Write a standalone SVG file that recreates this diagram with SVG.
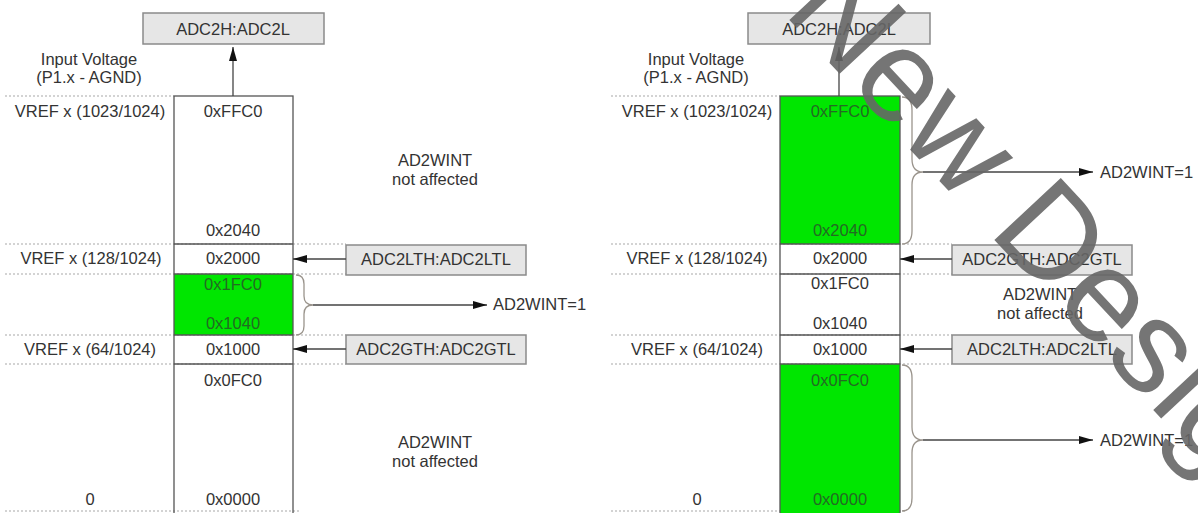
<svg xmlns="http://www.w3.org/2000/svg" width="1198" height="513" viewBox="0 0 1198 513">
<style>
text{font-family:"Liberation Sans",Arial,sans-serif;font-size:16.5px;fill:#333}
.c{text-anchor:middle}
.g{fill:#236b23}
.box{fill:#e6e6e6;stroke:#8a8a8a;stroke-width:1.5}
.col{fill:none;stroke:#555;stroke-width:1.3}
.sep{stroke:#555;stroke-width:1.3}
.dot{stroke:#a8a8a8;stroke-width:1.2;stroke-dasharray:2 2}
.grn{fill:#00e600}
.arw{stroke:#444;stroke-width:1.3;fill:none;marker-end:url(#ah)}
.brace{fill:none;stroke:#9a948c;stroke-width:1.3}
.wm{font-size:132px;fill:#666;fill-opacity:0.9}
</style>
<defs>
<marker id="ah" markerUnits="userSpaceOnUse" markerWidth="14" markerHeight="8" refX="14" refY="4" orient="auto">
<path d="M0,0 L14,4 L0,8 z" fill="#111"/>
</marker>
</defs>

<!-- dotted guide lines -->
<g id="guides">
<line class="dot" x1="5" y1="96" x2="174" y2="96"/>
<line class="dot" x1="5" y1="244" x2="346" y2="244"/>
<line class="dot" x1="5" y1="274" x2="346" y2="274"/>
<line class="dot" x1="5" y1="335" x2="346" y2="335"/>
<line class="dot" x1="5" y1="364" x2="346" y2="364"/>
<line class="dot" x1="5" y1="511" x2="300" y2="511"/>
<line class="dot" x1="611" y1="96" x2="780" y2="96"/>
<line class="dot" x1="611" y1="244" x2="952" y2="244"/>
<line class="dot" x1="611" y1="274" x2="952" y2="274"/>
<line class="dot" x1="611" y1="335" x2="952" y2="335"/>
<line class="dot" x1="611" y1="364" x2="952" y2="364"/>
<line class="dot" x1="611" y1="511" x2="906" y2="511"/>
</g>

<!-- LEFT PANEL -->
<g id="left-column">
<rect class="grn" x="174" y="274" width="119" height="61"/>
<rect class="col" x="174" y="96" width="119" height="420"/>
<line class="sep" x1="174" y1="244" x2="293" y2="244"/>
<line class="sep" x1="174" y1="274" x2="293" y2="274"/>
<line class="sep" x1="174" y1="335" x2="293" y2="335"/>
<line class="sep" x1="174" y1="364" x2="293" y2="364"/>
<text class="c" x="233" y="117">0xFFC0</text>
<text class="c" x="233" y="236">0x2040</text>
<text class="c" x="233" y="264">0x2000</text>
<text class="c g" x="233" y="290">0x1FC0</text>
<text class="c g" x="233" y="329">0x1040</text>
<text class="c" x="233" y="355">0x1000</text>
<text class="c" x="233" y="386">0x0FC0</text>
<text class="c" x="233" y="505">0x0000</text>
</g>
<g id="left-labels">
<text class="c" x="89" y="65">Input Voltage</text>
<text class="c" x="89" y="83">(P1.x - AGND)</text>
<text class="c" x="90" y="117">VREF x (1023/1024)</text>
<text class="c" x="91" y="264">VREF x (128/1024)</text>
<text class="c" x="90" y="355">VREF x (64/1024)</text>
<text class="c" x="90" y="505">0</text>
<text class="c" x="435" y="166">AD2WINT</text>
<text class="c" x="435" y="185">not affected</text>
<text class="c" x="435" y="448">AD2WINT</text>
<text class="c" x="435" y="467">not affected</text>
<text x="493" y="310">AD2WINT=1</text>
</g>
<g id="left-adc2h">
<rect class="box" x="143" y="13" width="181" height="31"/>
<text class="c" x="233" y="35">ADC2H:ADC2L</text>
</g>
<g id="left-adc2lt">
<rect class="box" x="346" y="245" width="180" height="30"/>
<text class="c" x="436" y="265">ADC2LTH:ADC2LTL</text>
</g>
<g id="left-adc2gt">
<rect class="box" x="346" y="335" width="180" height="29"/>
<text class="c" x="436" y="355">ADC2GTH:ADC2GTL</text>
</g>

<!-- RIGHT PANEL -->
<g id="right-column">
<rect class="grn" x="780" y="96" width="120" height="148"/>
<rect class="grn" x="780" y="364" width="120" height="152"/>
<rect class="col" x="780" y="96" width="120" height="420"/>
<line class="sep" x1="780" y1="244" x2="900" y2="244"/>
<line class="sep" x1="780" y1="274" x2="900" y2="274"/>
<line class="sep" x1="780" y1="335" x2="900" y2="335"/>
<line class="sep" x1="780" y1="364" x2="900" y2="364"/>
<text class="c g" x="840" y="117">0xFFC0</text>
<text class="c g" x="840" y="236">0x2040</text>
<text class="c" x="840" y="264">0x2000</text>
<text class="c" x="840" y="289">0x1FC0</text>
<text class="c" x="840" y="329">0x1040</text>
<text class="c" x="840" y="355">0x1000</text>
<text class="c g" x="840" y="386">0x0FC0</text>
<text class="c g" x="840" y="505">0x0000</text>
</g>
<g id="right-labels">
<text class="c" x="696" y="65">Input Voltage</text>
<text class="c" x="696" y="83">(P1.x - AGND)</text>
<text class="c" x="697" y="117">VREF x (1023/1024)</text>
<text class="c" x="697" y="264">VREF x (128/1024)</text>
<text class="c" x="697" y="355">VREF x (64/1024)</text>
<text class="c" x="697" y="505">0</text>
<text class="c" x="1040" y="300">AD2WINT</text>
<text class="c" x="1040" y="319">not affected</text>
<text x="1100" y="178">AD2WINT=1</text>
<text x="1100" y="446">AD2WINT=1</text>
</g>
<g id="right-adc2h">
<rect class="box" x="748" y="13" width="182" height="31"/>
<text class="c" x="839" y="35">ADC2H:ADC2L</text>
</g>
<g id="right-adc2gt">
<rect class="box" x="952" y="245" width="180" height="30"/>
<text class="c" x="1042" y="265">ADC2GTH:ADC2GTL</text>
</g>
<g id="right-adc2lt">
<rect class="box" x="952" y="335" width="180" height="29"/>
<text class="c" x="1042" y="355">ADC2LTH:ADC2LTL</text>
</g>

<!-- connectors -->
<g id="connectors">
<line class="arw" x1="233" y1="96" x2="233" y2="47"/>
<line class="arw" x1="346" y1="259" x2="293" y2="259"/>
<line class="arw" x1="346" y1="349" x2="293" y2="349"/>
<path class="brace" d="M296,275 Q304,275 304,284 L304,296 Q304,305 313,305 Q304,305 304,314 L304,326 Q304,335 296,335"/>
<line class="arw" x1="313" y1="305" x2="487" y2="305"/>
<line class="arw" x1="839" y1="96" x2="839" y2="47"/>
<line class="arw" x1="952" y1="259" x2="900" y2="259"/>
<line class="arw" x1="952" y1="349" x2="900" y2="349"/>
<path class="brace" d="M902,97 Q912,97 912,110 L912,159 Q912,172 923,172 Q912,172 912,185 L912,231 Q912,244 902,244"/>
<line class="arw" x1="923" y1="172" x2="1093" y2="172"/>
<path class="brace" d="M902,365 Q912,365 912,378 L912,427 Q912,440 923,440 Q912,440 912,453 L912,498 Q912,511 902,511"/>
<line class="arw" x1="923" y1="440" x2="1093" y2="440"/>
</g>

<!-- watermark -->
<g id="watermark">
<text class="wm" transform="translate(782,12) rotate(47)">New Design</text>
</g>
</svg>
